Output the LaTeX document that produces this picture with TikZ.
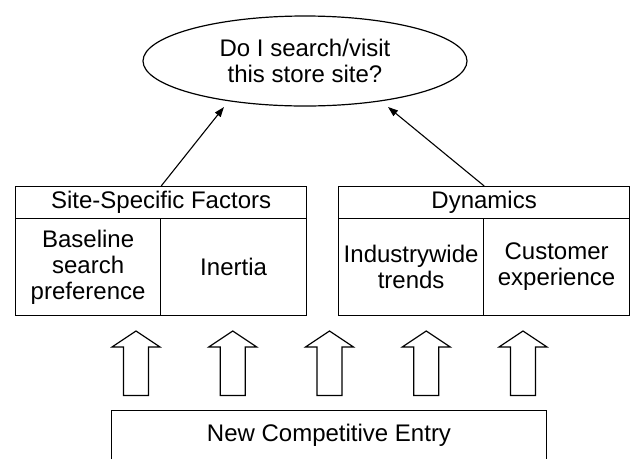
\documentclass[tikz,border=0pt]{standalone}
\usepackage{fontspec}
\setmainfont{Liberation Sans}
\usetikzlibrary{shapes.geometric,arrows.meta}
\begin{document}
\begin{tikzpicture}[x=1pt,y=-1pt,
  every node/.style={font=\fontsize{24}{26}\selectfont, inner sep=0pt},
  cell/.style={draw, rectangle, line width=1.2pt, align=center, anchor=north west},
  question/.style={draw, ellipse, line width=1.2pt, align=center,
    minimum width=324pt, minimum height=90pt},
  conn/.style={line width=1.1pt, -{Triangle[length=10pt,width=7pt]}},
  blockarrow/.style={draw, line width=1.2pt, fill=white, line join=miter},
  framed/.style={line width=1.2pt}]
\useasboundingbox (0,0) rectangle (630,459);

% top question
\node[question] (q) at (305,61) {Do I search/visit\\this store site?};

% site-specific factors
\node[cell, minimum width=291pt, minimum height=32pt] (site) at (15,186) {Site-Specific Factors};
\node[cell, minimum width=145pt, minimum height=97pt] (baseline) at (15,218) {Baseline\\search\\preference};
\node[cell, minimum width=146pt, minimum height=97pt] (inertia) at (160,218) {Inertia};

% dynamics
\node[cell, minimum width=291pt, minimum height=32pt] (dyn) at (338,186) {Dynamics};
\node[cell, minimum width=145pt, minimum height=97pt] (trends) at (338,218) {Industrywide\\trends};
\node[cell, minimum width=146pt, minimum height=97pt] (cust) at (483,218) {Customer\\experience};

% connectors up to the question
\coordinate (tipL) at (224,107);
\coordinate (tipR) at (388,107);
\draw[conn] (baseline.north east |- site.north) -- (tipL);
\draw[conn] (trends.north east |- dyn.north) -- (tipR);

% new competitive entry (runs off the bottom edge)
\node[minimum width=434pt, minimum height=48pt] (entry) at (329,435) {New Competitive Entry};
\draw[framed] (entry.south west) -- (entry.north west) -- (entry.north east) -- (entry.south east);

% block arrows pushing up from the entry
\foreach \i/\cx in {1/136,2/232.75,3/329.5,4/426.25,5/523}{
  \coordinate (push\i) at (\cx,331);
  \draw[blockarrow] (\cx-12.5,395.5) -- (\cx-12.5,347) -- (\cx-24,347) -- (push\i)
    -- (\cx+24,347) -- (\cx+12.5,347) -- (\cx+12.5,395.5) -- cycle;
}
\end{tikzpicture}
\end{document}
